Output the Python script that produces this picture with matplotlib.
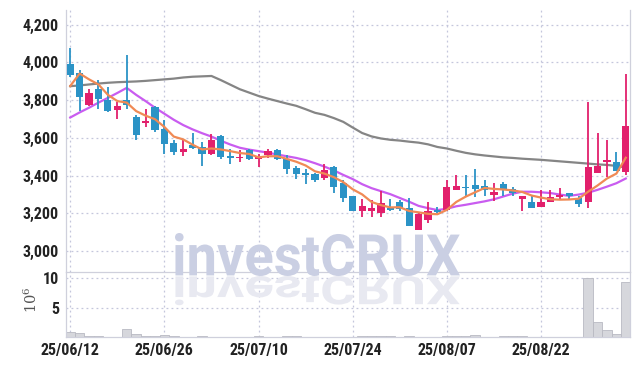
import numpy as np
import matplotlib
matplotlib.use('Agg')
import matplotlib.pyplot as plt
from matplotlib.textpath import TextPath
from matplotlib.patches import PathPatch
from matplotlib.font_manager import FontProperties, findfont
from matplotlib.transforms import Affine2D, IdentityTransform

# 일봉 데이터 (원)
dates = ['25/06/12', '25/06/26', '25/07/10', '25/07/24', '25/08/07', '25/08/22']
date_idx = [0, 10, 20, 30, 40, 50]

opens = [3990, 3945, 3775, 3860, 3800, 3750, 3800, 3710, 3680, 3765,
         3645, 3575, 3525, 3560, 3550, 3515, 3610, 3505, 3495, 3535,
         3490, 3510, 3535, 3490, 3440, 3415, 3410, 3390, 3445, 3360,
         3290, 3215, 3215, 3200, 3230, 3260, 3230, 3110, 3165, 3220,
         3220, 3325, 3340, 3350, 3345, 3300, 3355, 3330, 3275, 3260,
         3235, 3260, 3285, 3310, 3280, 3260, 3415, 3470, 3475, 3420]
highs = [4075, 3960, 3860, 3905, 3870, 3790, 4040, 3720, 3755, 3770,
         3695, 3590, 3590, 3625, 3580, 3620, 3615, 3540, 3535, 3540,
         3515, 3540, 3540, 3510, 3450, 3435, 3415, 3460, 3450, 3375,
         3290, 3275, 3270, 3320, 3275, 3270, 3280, 3210, 3260, 3235,
         3375, 3405, 3405, 3435, 3375, 3360, 3365, 3340, 3290, 3295,
         3325, 3325, 3335, 3310, 3295, 3790, 3625, 3590, 3525, 3940]
lows = [3920, 3740, 3770, 3755, 3735, 3700, 3755, 3590, 3660, 3630,
        3515, 3510, 3505, 3540, 3450, 3510, 3490, 3460, 3475, 3485,
        3445, 3495, 3485, 3410, 3380, 3355, 3365, 3375, 3310, 3260,
        3215, 3180, 3180, 3180, 3215, 3215, 3135, 3110, 3150, 3200,
        3215, 3325, 3295, 3285, 3290, 3265, 3295, 3290, 3215, 3230,
        3235, 3260, 3270, 3270, 3235, 3230, 3415, 3395, 3425, 3405]
closes = [3935, 3815, 3840, 3805, 3740, 3770, 3775, 3615, 3690, 3640,
          3570, 3525, 3540, 3545, 3515, 3590, 3500, 3495, 3500, 3490,
          3505, 3530, 3490, 3435, 3410, 3405, 3375, 3430, 3340, 3280,
          3215, 3240, 3230, 3255, 3220, 3225, 3135, 3195, 3215, 3210,
          3340, 3345, 3335, 3330, 3325, 3315, 3330, 3310, 3290, 3230,
          3260, 3285, 3300, 3295, 3250, 3445, 3450, 3485, 3425, 3665]

# 이동평균
ma5 = [3875, 3941, 3910, 3883, 3828, 3795, 3787, 3742, 3718, 3699,
       3658, 3607, 3592, 3564, 3539, 3544, 3539, 3530, 3520, 3515,
       3497, 3503, 3503, 3489, 3474, 3454, 3423, 3411, 3392, 3366,
       3328, 3301, 3261, 3244, 3232, 3233, 3213, 3206, 3198, 3196,
       3219, 3261, 3289, 3312, 3335, 3330, 3327, 3322, 3314, 3295,
       3284, 3275, 3273, 3274, 3278, 3315, 3348, 3385, 3411, 3495]
ma20 = [3708, 3735, 3760, 3787, 3812, 3838, 3865, 3828, 3795, 3760,
        3728, 3696, 3668, 3645, 3625, 3607, 3585, 3565, 3548, 3538,
        3530, 3522, 3512, 3503, 3494, 3482, 3466, 3448, 3428, 3404,
        3382, 3355, 3334, 3318, 3302, 3282, 3262, 3240, 3228, 3218,
        3225, 3238, 3246, 3255, 3264, 3275, 3290, 3305, 3315, 3315,
        3312, 3308, 3300, 3293, 3300, 3310, 3325, 3342, 3360, 3385]
ma60 = [3874, 3878, 3883, 3888, 3892, 3895, 3897, 3899, 3902, 3906,
        3910, 3914, 3920, 3924, 3926, 3928, 3906, 3882, 3858, 3840,
        3822, 3808, 3795, 3782, 3770, 3752, 3733, 3722, 3705, 3685,
        3655, 3626, 3608, 3597, 3590, 3586, 3580, 3575, 3566, 3552,
        3544, 3532, 3521, 3513, 3507, 3502, 3497, 3494, 3490, 3487,
        3484, 3480, 3476, 3472, 3468, 3464, 3460, 3457, 3452, 3443]

# 거래량 (백만주)
volume = [0.95, 0.7, 0.3, 0.3, 0.12, 0.1, 1.4, 0.55, 0.3, 0.18,
          0.35, 0.15, 0.12, 0.1, 0.15, 0.12, 0.08, 0.1, 0.12, 0.1,
          0.15, 0.12, 0.1, 0.18, 0.2, 0.12, 0.1, 0.1, 0.12, 0.1,
          0.12, 0.15, 0.18, 0.2, 0.15, 0.12, 0.25, 0.12, 0.1, 0.1,
          0.3, 0.2, 0.2, 0.4, 0.1, 0.12, 0.2, 0.15, 0.15, 0.1,
          0.1, 0.08, 0.08, 0.06, 0.1, 9.97, 2.5, 1.25, 0.55, 9.35]

UP = '#e2206c'
DOWN = '#2b93c6'
GRID = '#c4c6dc'

# 좁은 글꼴 찾기
tick_font = 'DejaVu Sans'
for fam in ['Roboto Condensed', 'Liberation Sans Narrow', 'Arial Narrow', 'Roboto']:
    try:
        findfont(FontProperties(family=fam), fallback_to_default=False)
        tick_font = fam
        break
    except Exception:
        pass

W, H = 639, 366
fig = plt.figure(figsize=(W / 100, H / 100), dpi=100)
ax = fig.add_axes([66 / W, 1 - 272 / H, 564 / W, 262.5 / H])
axv = fig.add_axes([66 / W, 1 - 337.3 / H, 564 / W, 65.3 / H])

x = np.arange(len(closes))
o = np.array(opens); c = np.array(closes)
colors = [UP if cc >= oo else DOWN for oo, cc in zip(o, c)]

# 워터마크
fp = FontProperties(family=['Roboto', 'DejaVu Sans'], weight='bold')
tp = TextPath((0, 0), 'investCRUX', size=50, prop=fp)
bb = tp.get_extents()
sx = (460 - 175) / bb.width
sy = (276 - 233) / bb.height
t_main = Affine2D().translate(-bb.x0, -bb.y0).scale(sx, sy).translate(175, H - 276)
t_refl = Affine2D().translate(-bb.x0, -bb.y0).scale(sx, -sy * 0.68).translate(175, H - 276)
fig.add_artist(PathPatch(t_main.transform_path(tp), transform=IdentityTransform(),
                         facecolor='#cacfe3', edgecolor='none', zorder=0.5))
fig.add_artist(PathPatch(t_refl.transform_path(tp), transform=IdentityTransform(),
                         facecolor='#e8e9f1', edgecolor='none', zorder=0.5))
ax.patch.set_alpha(0)
axv.patch.set_alpha(0)

# 캔들
ax.vlines(x, lows, highs, colors=colors, linewidth=1.3, zorder=3)
body_h = np.maximum(np.abs(c - o), 3)
ax.bar(x, body_h, bottom=np.minimum(o, c), width=0.76, color=colors, zorder=4)

ax.plot(x, ma60, color='#858585', lw=1.6, zorder=2)
ax.plot(x, ma20, color='#c95cf0', lw=1.6, zorder=2)
ax.plot(x, ma5, color='#f08a55', lw=1.6, zorder=5)

ax.set_xlim(-0.45, 59.45)
ax.set_ylim(2890, 4280)
ax.set_yticks(range(3000, 4201, 200))
ax.set_yticklabels([f'{v:,}' for v in range(3000, 4201, 200)])
ax.set_xticks(date_idx)
ax.set_xticklabels([])

axv.bar(x, volume, width=1.0, color='#d6d7dc', edgecolor='#b8b9c2', linewidth=0.6, zorder=2)
axv.set_xlim(-0.45, 59.45)
axv.set_ylim(0, 11.03)
axv.set_yticks([5, 10])
axv.set_yticklabels(['5', '10'])
axv.set_xticks(date_idx)
axv.set_xticklabels(dates)

for a in (ax, axv):
    a.grid(True, color=GRID, linestyle=(0, (1.5, 2.5)), linewidth=0.9)
    a.set_axisbelow(True)
    a.tick_params(length=0, labelsize=11.5, labelcolor='#222222', pad=5)
    for lab in a.get_yticklabels() + a.get_xticklabels():
        lab.set_family(tick_font)
        lab.set_fontweight('bold')
    for s in a.spines.values():
        s.set_color('#cfd0dc')
        s.set_linewidth(0.9)
    a.spines['top'].set_visible(False)

axv.tick_params(axis='x', pad=4)
fig.text(31 / W, 1 - 300 / H, r'$\mathregular{10^6}$', rotation=90,
         ha='center', va='center', fontsize=10.5, color='#555555', family='DejaVu Serif')

fig.savefig('out.png', dpi=100)
